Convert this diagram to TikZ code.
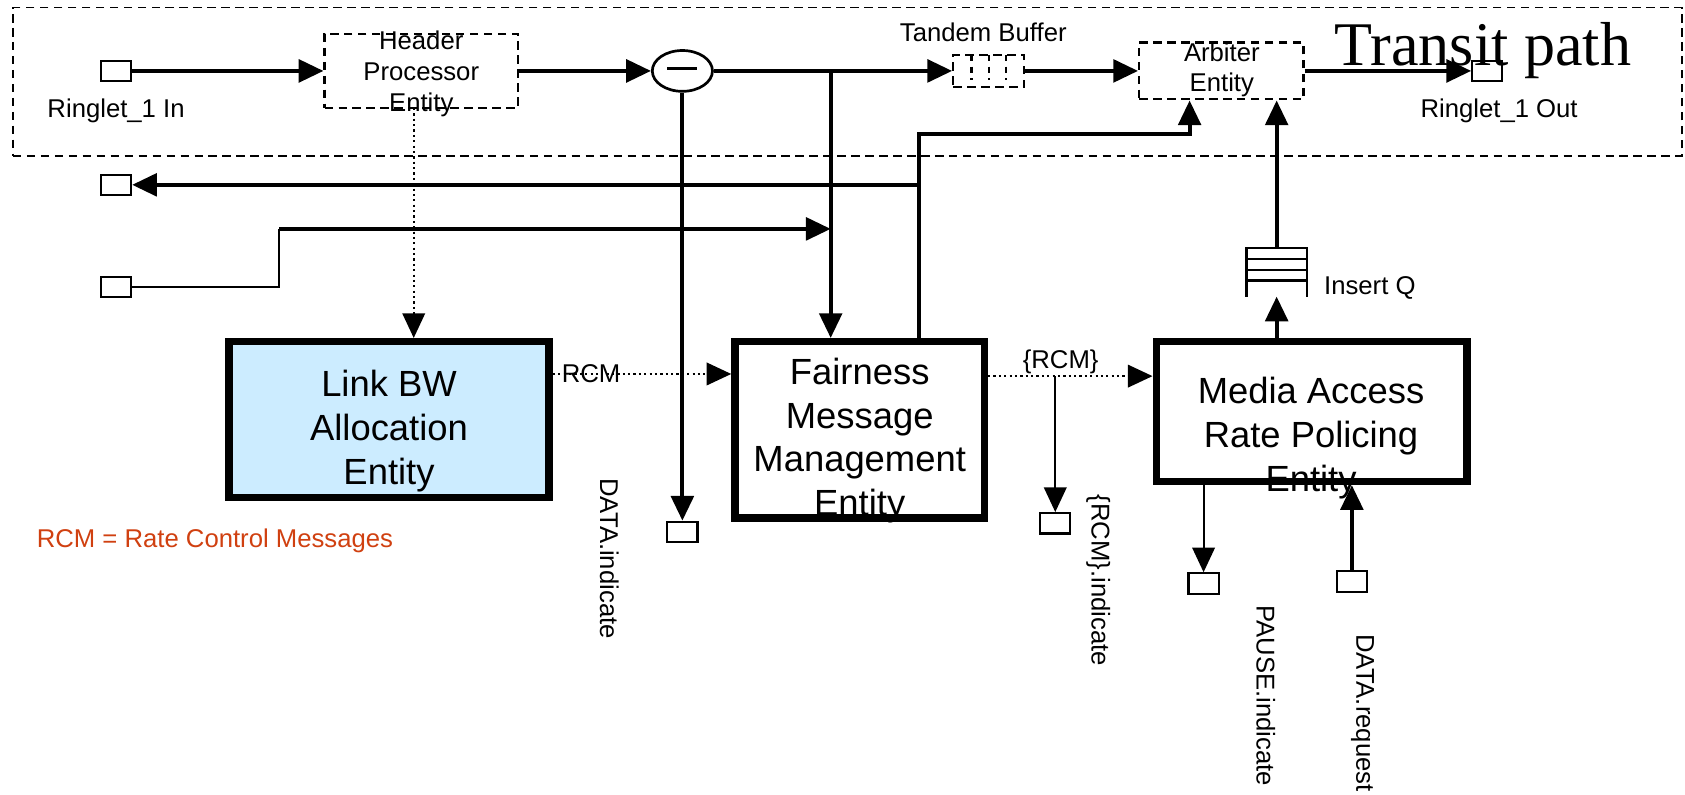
\documentclass[tikz,border=0pt]{standalone}
\usepackage{fontspec}
\setmainfont{Liberation Sans}
\newfontfamily\serifbig{Liberation Serif}
\usepackage{xcolor}
\usetikzlibrary{arrows.meta}
\usetikzlibrary{shapes.geometric}
\usetikzlibrary{positioning}
\usetikzlibrary{calc}
\definecolor{bwfill}{RGB}{204,236,255}
\definecolor{rcmred}{RGB}{208,64,16}
\tikzset{>={Triangle[length=23bp,width=21bp]}, line join=miter,
  port/.style={draw, line width=2bp, minimum width=28bp, minimum height=19bp, inner sep=0pt},
  entity/.style={draw, line width=7bp, inner sep=0pt},
  dashbox/.style={draw, line width=2bp, dash pattern=on 8bp off 5bp, inner sep=0pt},
  lbl/.style={font=\fontsize{24}{29}\selectfont, align=center, inner sep=0pt},
  biglbl/.style={font=\fontsize{34}{41}\selectfont, align=center, inner sep=0pt},
  flow/.style={->, line width=3.7bp},
  thinflow/.style={->, line width=2bp},
  msg/.style={->, line width=2bp, dash pattern=on 2bp off 3bp}}

\begin{document}
\begin{tikzpicture}[x=1bp,y=-1bp]
\useasboundingbox (0,0) rectangle (1568,739);
%% transit path
\node[dashbox, line width=1.5bp, minimum width=1553bp, minimum height=138bp] (transit) at (788.5,76) {};
\node[anchor=base, font=\serifbig\fontsize{58}{60}\selectfont, inner sep=0pt] (transit_t) at (1380,61) {Transit path};
  \node[port] (in_port) at (108,66) {};
  \node[lbl] (in_t) at (108,103) {Ringlet\_1 In};
  \node[dashbox, minimum width=180bp, minimum height=69bp] (header) at (392,66) {};
  \node[lbl] (header_t) at (392,69) {Header\\Processor\\Entity};
  \node[draw, ellipse, line width=2.5bp, minimum width=56bp, minimum height=38bp, inner sep=0pt] (filter) at (635,66) {};
  \draw[line width=3bp] (621,64) -- (649,64);
  \node[dashbox, minimum width=66bp, minimum height=30bp] (tandem) at (920,66) {};
  \foreach \x in {904,920,936}
    \draw[line width=2bp, dash pattern=on 6bp off 5bp] (\x,51) -- (\x,74);
  \node[lbl] (tandem_t) at (915,30) {Tandem Buffer};
  \node[dashbox, minimum width=153bp, minimum height=53bp] (arbiter) at (1136.5,66) {};
  \node[lbl, font=\fontsize{24}{28}\selectfont] (arbiter_t) at (1137,65) {Arbiter\\Entity};
  \node[port] (out_port) at (1384,66) {};
  \node[lbl] (out_t) at (1395,103) {Ringlet\_1 Out};
%% side ports
  \node[port] (out_left) at (108,172) {};
  \node[port] (in_left) at (108,267) {};
%% entities
  \node[entity, fill=bwfill, minimum width=298bp, minimum height=145bp] (linkbw) at (362,390.5) {};
  \node[biglbl] (linkbw_t) at (362,401) {Link BW\\Allocation\\Entity};
  \node[entity, minimum width=232bp, minimum height=164bp] (fair) at (800,400) {};
  \node[biglbl] (fair_t) at (800,410) {Fairness\\Message\\Management\\Entity};
  \node[entity, minimum width=289bp, minimum height=130bp] (media) at (1220.5,383) {};
  \node[biglbl] (media_t) at (1220,408) {Media Access\\Rate Policing\\Entity};
%% insert queue
  \draw[line width=2bp] (1160,276) -- (1160,231) -- (1216,231) -- (1216,276);
  \foreach \y in {241,251,261}
    \draw[line width=2bp] (1160,\y) -- (1216,\y);
  \node[lbl, anchor=west] (insq_t) at (1232,268) {Insert Q};
%% service ports
  \node[port] (dind_port) at (635,495) {};
  \node[port] (rind_port) at (982,487) {};
  \node[port] (pause_port) at (1120,543) {};
  \node[port] (dreq_port) at (1258,541) {};
  \node[lbl, rotate=-90, anchor=west] (dind_t) at (567,445) {DATA.indicate};
  \node[lbl, rotate=-90, anchor=west] (rind_t) at (1022,460) {\{RCM\}.indicate};
  \node[lbl, rotate=-90, anchor=west] (pause_t) at (1178,563) {PAUSE.indicate};
  \node[lbl, rotate=-90, anchor=west] (dreq_t) at (1268,590) {DATA.request};
  \node[lbl] (rcm_t) at (550,348) {RCM};
  \node[lbl] (rcm2_t) at (987,337) {\{RCM\}};
  \node[lbl, text=rcmred] (legend) at (200,503) {RCM = Rate Control Messages};
%% junctions
  \coordinate (j1) at (773,66);
  \coordinate (j2) at (773,213);
  \coordinate (bend) at (260,213);
  \coordinate (fb) at (855,125);
  \coordinate (hp) at (385,100.5);
  \coordinate (rcm_row) at (0,348);
  \coordinate (rcm2_row) at (0,350);
  \coordinate (rcm_br) at (982,350);
  \coordinate (q_bot) at (1188,276);
  \coordinate (q_top) at (1188,231);
%% connectors
  \draw[flow] (in_port) -- (header);
  \draw[flow] (header) -- (filter);
  \draw[flow] (filter) -- (tandem);
  \draw[flow] (tandem) -- (arbiter);
  \draw[flow] (arbiter) -- (out_port);
  \draw[flow] (j1) -- (j1 |- fair.north);
  \draw[flow] (fb |- fair.north) -- (fb) -| ([xshift=-29.5bp]arbiter.south);
  \draw[flow] (fb |- out_left) -- (out_left);
  \draw[line width=2bp] (in_left) -| (bend);
  \draw[flow] (bend) -- (j2);
  \draw[flow] (filter) -- (dind_port);
  \draw[msg] (hp) -- (hp |- linkbw.north);
  \draw[msg] (linkbw.east |- rcm_row) -- (fair.west |- rcm_row);
  \draw[msg] (fair.east |- rcm2_row) -- (media.west |- rcm2_row);
  \draw[thinflow] (rcm_br) -- (rind_port);
  \draw[flow] (q_bot |- media.north) -- (q_bot);
  \draw[flow] (q_top) -- (q_top |- arbiter.south);
  \draw[thinflow] (media.south -| pause_port) -- (pause_port);
  \draw[flow] (dreq_port) -- (dreq_port |- media.south);
%
\end{tikzpicture}
\end{document}
